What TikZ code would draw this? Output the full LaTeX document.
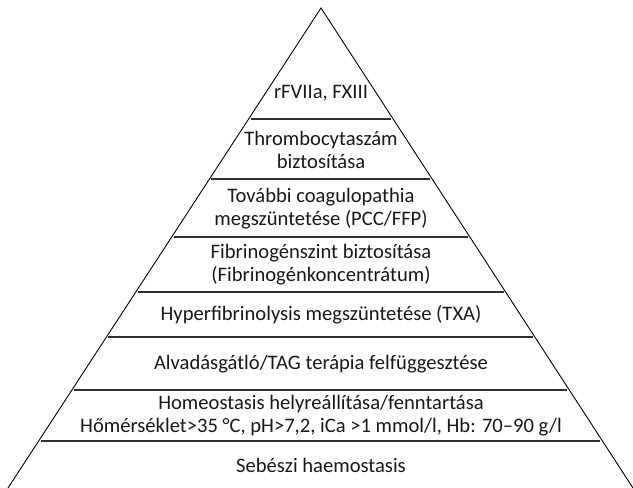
\documentclass[tikz,border=0pt]{standalone}
\usepackage{fontspec}
\setmainfont{Carlito}
\usetikzlibrary{calc}
\definecolor{txt}{HTML}{1A1718}
\begin{document}
\begin{tikzpicture}[x=1bp,y=-1bp,
 edge/.style={draw=black,line width=0.9bp,line join=miter},
 sep/.style={draw=txt!90,line width=1.3bp,shorten <=2bp,shorten >=2bp},
 lab/.style={text=txt,align=center,font=\fontsize{20.6bp}{22.8bp}\selectfont,inner sep=0pt}]
\useasboundingbox (0,0) rectangle (633,488);
\coordinate (apex) at (321,8);
\coordinate (bl) at (8,488);
\coordinate (br) at (633,488);
\draw[edge] (bl) -- (apex) -- (br);
\foreach \y [count=\i] in {119,179,237,292,337,390,441}{
  \pgfmathsetmacro\t{(\y-8)/480}
  \coordinate (l\i) at ($(apex)!\t!(bl)$);
  \coordinate (r\i) at ($(apex)!\t!(br)$);
  \draw[sep] (l\i) -- (r\i);
}
\node[lab] (n1) at (321,93) {rFVIIa, FXIII};
\node[lab] (n2) at (321,150) {Thrombocytaszám\\biztosítása};
\node[lab] (n3) at (321,209) {További coagulopathia\\megszüntetése (PCC/FFP)};
\node[lab] (n4) at (321,265) {Fibrinogénszint biztosítása\\(Fibrinogénkoncentrátum)};
\node[lab] (n5) at (321,315) {Hyperfibrinolysis megszüntetése (TXA)};
\node[lab] (n6) at (321,364) {Alvadásgátló/TAG terápia felfüggesztése};
\node[lab] (n7) at (321,416) {Homeostasis helyreállítása/fenntartása\\Hőmérséklet>35 °C, pH>7,2, iCa >1 mmol/l, Hb: 70–90 g/l};
\node[lab] (n8) at (321,465) {Sebészi haemostasis};
\end{tikzpicture}
\end{document}
